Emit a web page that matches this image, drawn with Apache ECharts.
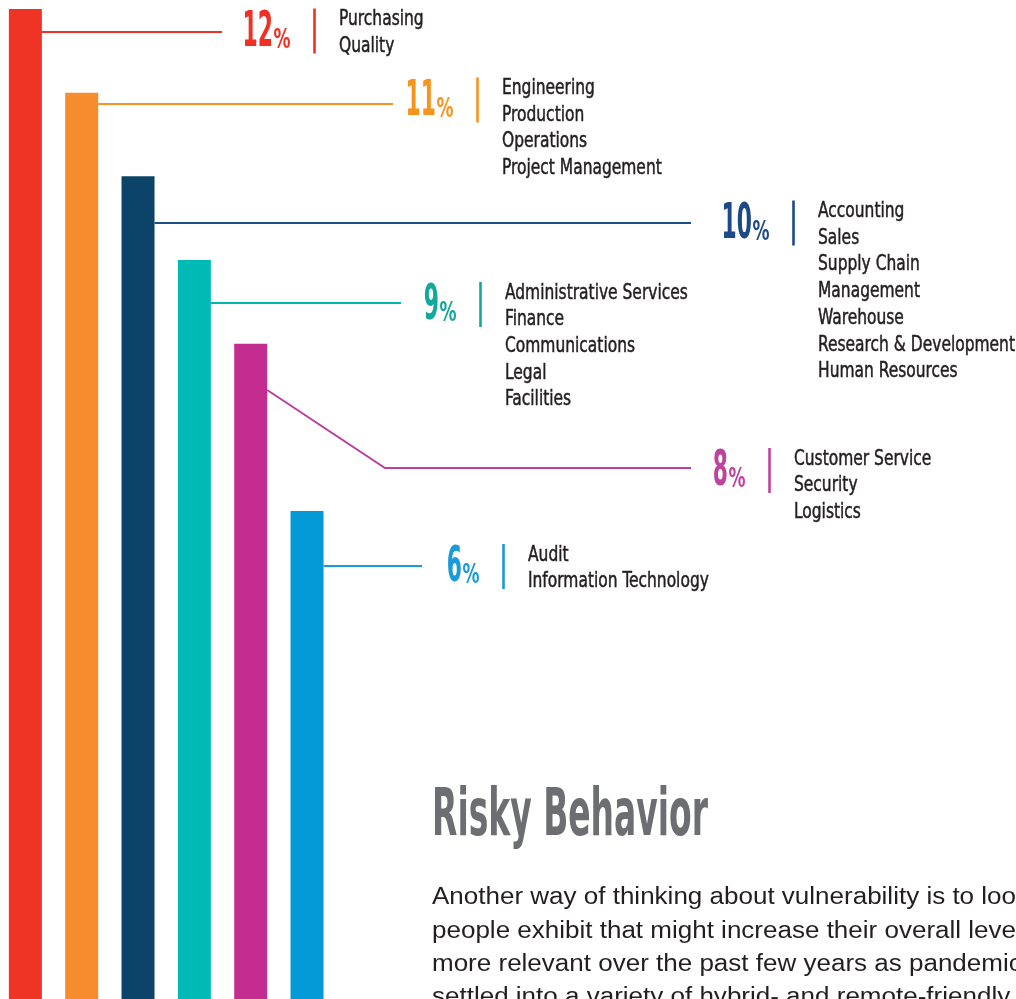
<!DOCTYPE html>
<html>
<head>
<meta charset="utf-8">
<script src="https://cdn.jsdelivr.net/npm/echarts@6/dist/echarts.min.js"></script>
<style>
html,body{margin:0;padding:0;background:#fff;}
#chart{width:1016px;height:999px;}
</style>
</head>
<body>
<div id="chart"></div>
<script>
// ---------- DATA ----------
const categories = ['Group A', 'Group B', 'Group C', 'Group D', 'Group E', 'Group F'];
const values = [12, 11, 10, 9, 8, 6];
const groupLists = [
  ['Purchasing', 'Quality'],
  ['Engineering', 'Production', 'Operations', 'Project Management'],
  ['Accounting', 'Sales', 'Supply Chain', 'Management', 'Warehouse', 'Research & Development', 'Human Resources'],
  ['Administrative Services', 'Finance', 'Communications', 'Legal', 'Facilities'],
  ['Customer Service', 'Security', 'Logistics'],
  ['Audit', 'Information Technology']
];
const titleText = 'Risky Behavior';
const paragraphLines = [
  'Another way of thinking about vulnerability is to look',
  'people exhibit that might increase their overall level',
  'more relevant over the past few years as pandemic',
  'settled into a variety of hybrid- and remote-friendly'
];

// ---------- STYLE / LAYOUT ----------
const barColors = ['#ef3426', '#f78c2f', '#0c4369', '#00bab5', '#c22d8f', '#049ad7'];
const accentColors = ['#ee3124', '#f7941d', '#1b4a86', '#12a99b', '#bd449c', '#1a9ad9'];
const lineColors = ['#ee3124', '#f7941d', '#1d4d8a', '#00b8ae', '#bb3f9b', '#1a9ad6'];
const leaderLayout = [
  { y: 32,  endX: 222, sepX: 314.5, labelY: 31 },
  { y: 104, endX: 393, sepX: 477.5, labelY: 100 },
  { y: 223, endX: 691, sepX: 793.5, labelY: 223 },
  { y: 303, endX: 401, sepX: 480.5, labelY: 304.5 },
  { y: 468, endX: 691, sepX: 769.5, labelY: 470.5, startY: 390, elbowX: 385 },
  { y: 566, endX: 422, sepX: 503.5, labelY: 566.5 }
];
const NARROW = '"DejaVu Sans Condensed", "Liberation Sans Narrow", sans-serif';
const SANS = '"Liberation Sans", Arial, Helvetica, sans-serif';

const measureCtx = document.createElement('canvas').getContext('2d');
function textWidth(str, font) { measureCtx.font = font; return measureCtx.measureText(str).width; }

const chart = echarts.init(document.getElementById('chart'), null, { renderer: 'canvas' });
chart.setOption({
  animation: false,
  backgroundColor: '#ffffff',
  grid: { left: -2.8, right: 1016 - 335.2, top: 9, bottom: -14, containLabel: false, outerBoundsMode: 'none' },
  xAxis: { type: 'category', data: categories, show: false },
  yAxis: { type: 'value', min: 0, max: 12, show: false },
  series: [{
    type: 'bar',
    barWidth: 33,
    data: values.map((v, i) => ({ value: v, itemStyle: { color: barColors[i] } })),
    silent: true
  }]
});

const graphics = [];
const NUM_FS = 49, PCT_FS = 27, CAT_FS = 22, CAT_LH = 26.7;
const DIGIT_W = 15.2;
const catFont = CAT_FS + 'px ' + NARROW;
const CAT_SX = Math.min(191 / textWidth('Administrative Services', catFont), 197 / textWidth('Research & Development', catFont));
const pctFont = 'bold ' + PCT_FS + 'px ' + NARROW;
const PCT_SX = 17 / textWidth('%', pctFont);
const numFont = 'bold ' + NUM_FS + 'px ' + NARROW;
values.forEach((v, i) => {
  const L = leaderLayout[i];
  const top = chart.convertToPixel({ seriesIndex: 0 }, [i, v]);
  const barRight = top[0] + 16.5;
  // leader line
  let pts;
  if (L.elbowX) pts = [[barRight, L.startY], [L.elbowX, L.y], [L.endX, L.y]];
  else pts = [[barRight, L.y], [L.endX, L.y]];
  graphics.push({ type: 'polyline', shape: { points: pts }, style: { stroke: lineColors[i], lineWidth: 2, fill: null }, silent: true });
  // separator
  graphics.push({ type: 'rect', shape: { x: L.sepX - 1.3, y: L.labelY - 22.5, width: 2.6, height: 45 }, style: { fill: accentColors[i] }, silent: true });
  // percent number
  const pctRight = L.sepX - 24;
  graphics.push({
    type: 'text', x: pctRight, y: L.labelY + 9.5, scaleX: PCT_SX, silent: true,
    style: { text: '%', x: 0, y: 0, font: pctFont, fill: accentColors[i], align: 'right', verticalAlign: 'middle' }
  });
  const numStr = String(v);
  const numSX = (DIGIT_W * numStr.length) / textWidth(numStr, numFont);
  graphics.push({
    type: 'text', x: pctRight - 17.5, y: L.labelY + 2, scaleX: numSX, silent: true,
    style: { text: numStr, x: 0, y: 0, font: numFont, fill: accentColors[i], align: 'right', verticalAlign: 'middle' }
  });
  // category list
  graphics.push({
    type: 'text', x: L.sepX + 24.5, y: L.labelY - 25, scaleX: CAT_SX, silent: true,
    style: { text: groupLists[i].join('\n'), x: 0, y: 0, font: catFont, fill: '#231f20', stroke: '#231f20', lineWidth: 0.5, align: 'left', verticalAlign: 'top', lineHeight: CAT_LH }
  });
});

// title
const titleFont = 'bold 66px ' + NARROW;
const titleSX = 276 / textWidth(titleText, titleFont);
graphics.push({
  type: 'text', x: 432, y: 818, scaleX: titleSX, silent: true,
  style: { text: titleText, x: 0, y: 0, font: titleFont, fill: '#6d6e71', align: 'left', verticalAlign: 'middle' }
});
// paragraph
const paraFont = '23px ' + SANS;
const paraSX = 584 / textWidth('Another way of thinking about vulnerability is to loo', paraFont);
graphics.push({
  type: 'text', x: 432, y: 881.5, scaleX: paraSX, silent: true,
  style: { text: paragraphLines.join('\n'), x: 0, y: 0, font: paraFont, fill: '#231f20', align: 'left', verticalAlign: 'top', lineHeight: 33.3 }
});

chart.setOption({ graphic: graphics });
</script>
</body>
</html>
